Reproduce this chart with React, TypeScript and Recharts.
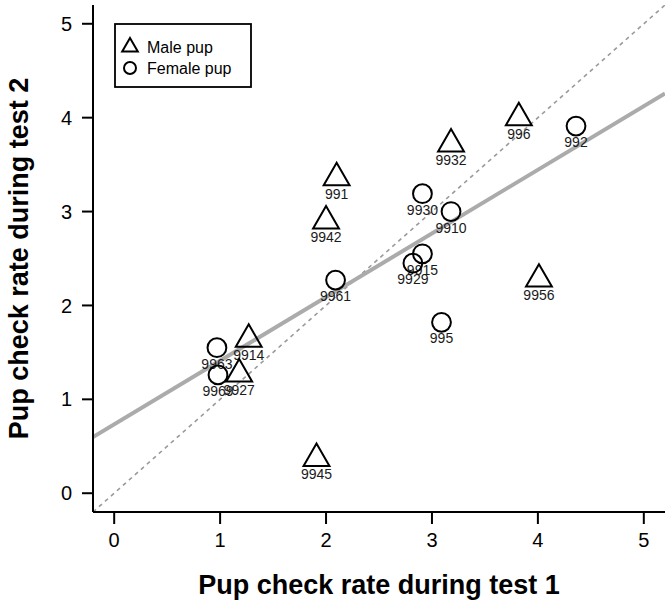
import React from 'react';
import {
  ScatterChart,
  Scatter,
  XAxis,
  YAxis,
  ReferenceLine,
  Legend,
} from 'recharts';

// ---- Data ----
const maleIds = ['991', '9942', '9932', '996', '9914', '9927', '9945', '9956'];
const maleTest1 = [2.1, 2.0, 3.18, 3.82, 1.27, 1.18, 1.91, 4.01];
const maleTest2 = [3.36, 2.9, 3.72, 4.0, 1.64, 1.27, 0.37, 2.28];

const femaleIds = ['9963', '9969', '9961', '9930', '9910', '9915', '9929', '995', '992'];
const femaleTest1 = [0.97, 0.98, 2.09, 2.91, 3.18, 2.91, 2.82, 3.09, 4.36];
const femaleTest2 = [1.55, 1.26, 2.27, 3.19, 3.0, 2.55, 2.45, 1.82, 3.91];

const tickValues = [0, 1, 2, 3, 4, 5];
const axisDomain: [number, number] = [-0.2, 5.2];

// fitted regression line
const regIntercept = 0.733;
const regSlope = 0.678;

const xTitle = 'Pup check rate during test 1';
const yTitle = 'Pup check rate during test 2';
const legendLabels = ['Male pup', 'Female pup'];

const maleData = maleIds.map((id, i) => ({ id, x: maleTest1[i], y: maleTest2[i] }));
const femaleData = femaleIds.map((id, i) => ({ id, x: femaleTest1[i], y: femaleTest2[i] }));

const FONT = '"Liberation Sans", Arial, Helvetica, sans-serif';

// R-style triangle geometry constants
const TRC0 = 1.555;
const TRC1 = 1.347;
const TRC2 = 0.778;

const trianglePath = (cx: number, cy: number, r: number) => {
  const top = cy - TRC0 * r;
  const bot = cy + TRC2 * r;
  const hw = TRC1 * r;
  return `M${cx},${top} L${cx + hw},${bot} L${cx - hw},${bot} Z`;
};

const PointLabel = ({ cx, cy, id }: { cx: number; cy: number; id: string }) => (
  <text
    x={cx}
    y={cy + 21}
    textAnchor="middle"
    fontFamily={FONT}
    fontSize={14}
    fill="#1a1a1a"
  >
    {id}
  </text>
);

const TriangleShape = (props: any) => {
  const { cx, cy, payload } = props;
  if (cx == null || cy == null) return null;
  return (
    <g>
      <path d={trianglePath(cx, cy, 9.6)} fill="none" stroke="#000" strokeWidth={2} strokeLinejoin="miter" />
      <PointLabel cx={cx} cy={cy} id={payload.id} />
    </g>
  );
};

const CircleShape = (props: any) => {
  const { cx, cy, payload } = props;
  if (cx == null || cy == null) return null;
  return (
    <g>
      <circle cx={cx} cy={cy} r={9.4} fill="none" stroke="#000" strokeWidth={2} />
      <PointLabel cx={cx} cy={cy} id={payload.id} />
    </g>
  );
};

const LegendBox = () => (
  <svg width={140} height={68} style={{ display: 'block' }}>
    <rect x={1} y={1} width={136} height={63} fill="#fff" stroke="#000" strokeWidth={1.8} />
    <path d={trianglePath(16, 24, 5.8)} fill="none" stroke="#000" strokeWidth={2} />
    <text x={33} y={29.5} fontFamily={FONT} fontSize={16} fill="#000">
      {legendLabels[0]}
    </text>
    <circle cx={16} cy={45} r={6} fill="none" stroke="#000" strokeWidth={2} />
    <text x={33} y={51} fontFamily={FONT} fontSize={16} fill="#000">
      {legendLabels[1]}
    </text>
  </svg>
);

export default function App() {
  return (
    <div style={{ position: 'absolute', left: 0, top: 0, background: '#fff' }}>
      <ScatterChart
        width={672}
        height={606}
        margin={{ top: 5, right: 7, bottom: 0, left: 0 }}
      >
        <XAxis
          type="number"
          dataKey="x"
          domain={axisDomain}
          ticks={tickValues}
          allowDataOverflow
          height={94}
          axisLine={{ stroke: '#000', strokeWidth: 2 }}
          tickLine={{ stroke: '#000', strokeWidth: 2 }}
          tickSize={12}
          tickMargin={9}
          tick={{ fontSize: 20, fill: '#000', fontFamily: FONT }}
          label={{
            content: (p: any) => {
              const vb = p.viewBox || { x: 93, y: 512, width: 572, height: 94 };
              return (
                <text
                  x={vb.x + vb.width / 2}
                  y={594}
                  textAnchor="middle"
                  fontFamily={FONT}
                  fontWeight="bold"
                  fontSize={27}
                  fill="#000"
                >
                  {xTitle}
                </text>
              );
            },
          }}
        />
        <YAxis
          type="number"
          dataKey="y"
          domain={axisDomain}
          ticks={tickValues}
          allowDataOverflow
          width={93}
          axisLine={{ stroke: '#000', strokeWidth: 2 }}
          tickLine={{ stroke: '#000', strokeWidth: 2 }}
          tickSize={11}
          tickMargin={10}
          tick={{ fontSize: 20, fill: '#000', fontFamily: FONT }}
          label={{
            content: (p: any) => {
              const vb = p.viewBox || { x: 0, y: 5, width: 93, height: 507 };
              const cy = vb.y + vb.height / 2;
              const x = 28;
              return (
                <text
                  x={x}
                  y={cy}
                  transform={`rotate(-90, ${x}, ${cy})`}
                  textAnchor="middle"
                  fontFamily={FONT}
                  fontWeight="bold"
                  fontSize={27}
                  fill="#000"
                >
                  {yTitle}
                </text>
              );
            },
          }}
        />
        <ReferenceLine
          segment={[
            { x: axisDomain[0], y: axisDomain[0] },
            { x: axisDomain[1], y: axisDomain[1] },
          ]}
          stroke="#9a9a9a"
          strokeWidth={1.6}
          strokeDasharray="4 4"
          ifOverflow="hidden"
        />
        <ReferenceLine
          segment={[
            { x: axisDomain[0], y: regIntercept + regSlope * axisDomain[0] },
            { x: axisDomain[1], y: regIntercept + regSlope * axisDomain[1] },
          ]}
          stroke="#ababab"
          strokeWidth={4}
          ifOverflow="hidden"
        />
        <Scatter
          name={legendLabels[0]}
          data={maleData}
          shape={TriangleShape}
          isAnimationActive={false}
        />
        <Scatter
          name={legendLabels[1]}
          data={femaleData}
          shape={CircleShape}
          isAnimationActive={false}
        />
        <Legend
          layout="vertical"
          align="center"
          verticalAlign="middle"
          content={() => <LegendBox />}
          wrapperStyle={{ left: 114, top: 23, width: 140, height: 68 }}
        />
      </ScatterChart>
    </div>
  );
}
